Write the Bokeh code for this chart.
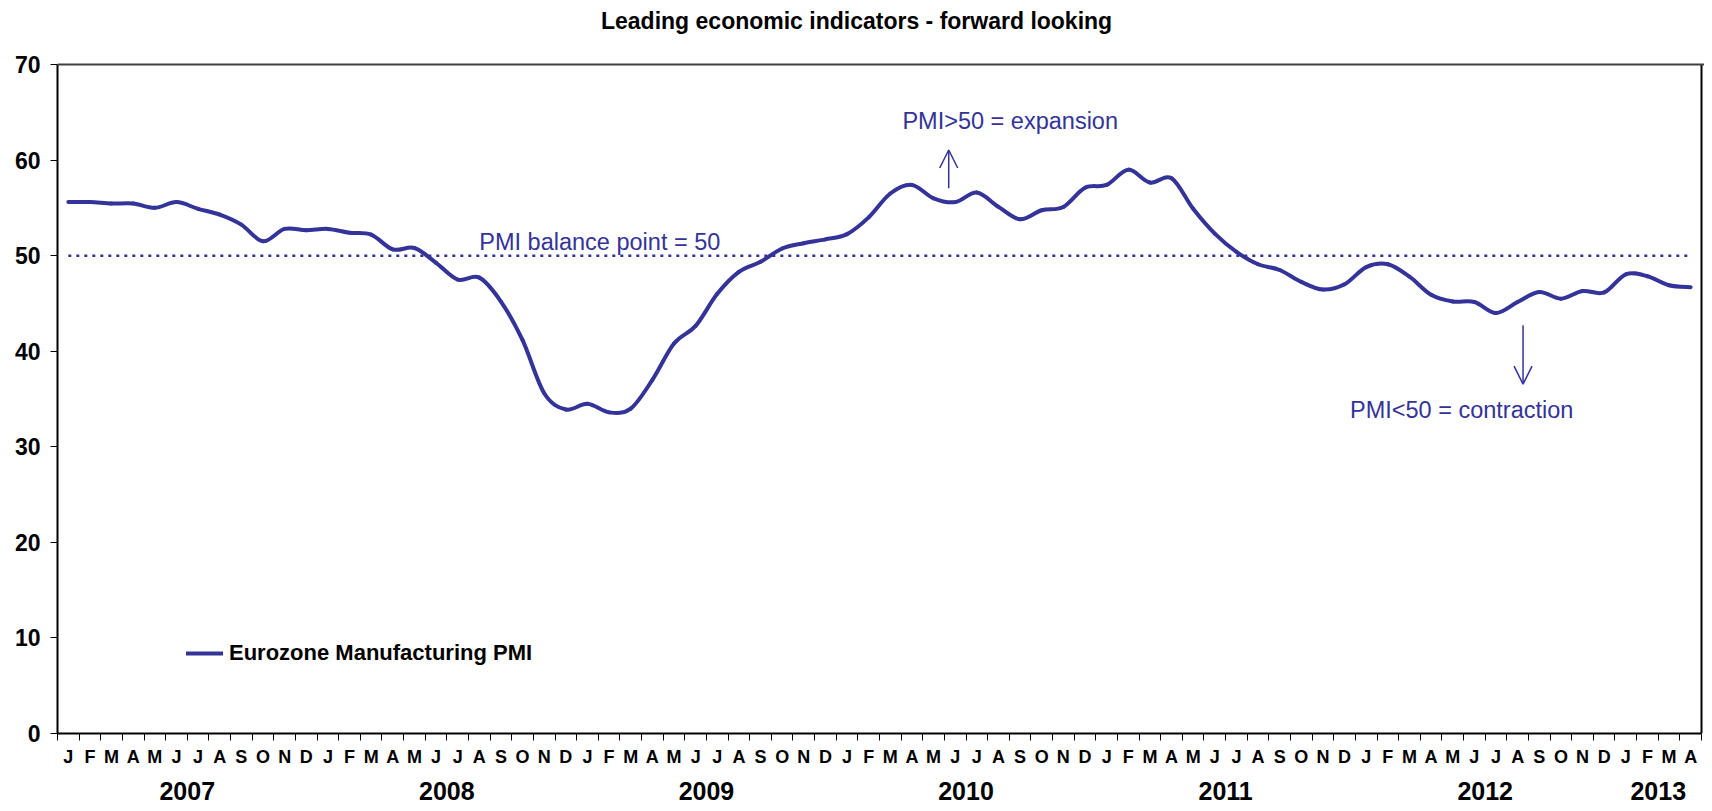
from bokeh.plotting import figure
from bokeh.models import (Range1d, FixedTicker, LinearAxis, Label, Arrow, OpenHead,
                          ColumnDataSource, Legend, LegendItem, Span)
from bokeh.embed import file_html
from bokeh.resources import INLINE

# ---------------- data ----------------
years = [2007, 2008, 2009, 2010, 2011, 2012, 2013]
month_letters = ["J", "F", "M", "A", "M", "J", "J", "A", "S", "O", "N", "D"]
months_in_year = [12, 12, 12, 12, 12, 12, 4]

pmi_2007 = [55.6, 55.6, 55.45, 55.45, 55.0, 55.6, 54.9, 54.3, 53.25, 51.5, 52.8, 52.65]
pmi_2008 = [52.8, 52.4, 52.2, 50.65, 50.8, 49.25, 47.5, 47.7, 45.2, 41.15, 35.6, 33.9]
pmi_2009 = [34.5, 33.6, 34.0, 37.0, 40.8, 42.65, 46.0, 48.3, 49.35, 50.75, 51.3, 51.7]
pmi_2010 = [52.25, 54.0, 56.5, 57.4, 56.0, 55.6, 56.6, 55.1, 53.8, 54.75, 55.1, 57.1]
pmi_2011 = [57.4, 59.0, 57.65, 58.1, 54.9, 52.3, 50.4, 49.1, 48.5, 47.25, 46.45, 47.0]
pmi_2012 = [48.8, 49.1, 47.8, 45.9, 45.2, 45.15, 44.0, 45.15, 46.2, 45.5, 46.3, 46.15]
pmi_2013 = [48.05, 47.85, 46.9, 46.7]

balance_point = 50
y_min, y_max = 0, 70
y_ticks = [0, 10, 20, 30, 40, 50, 60, 70]

title_text = "Leading economic indicators - forward looking"
series_name = "Eurozone Manufacturing PMI"
note_balance = "PMI balance point = 50"
note_up = "PMI>50 = expansion"
note_down = "PMI<50 = contraction"

# ---------------- derived ----------------
pmi = pmi_2007 + pmi_2008 + pmi_2009 + pmi_2010 + pmi_2011 + pmi_2012 + pmi_2013
n = len(pmi)
idx = list(range(n))
letters = []
year_centers = []
start = 0
for y, m in zip(years, months_in_year):
    letters += month_letters[:m]
    year_centers.append(start + (m - 1) / 2)
    start += m

# smooth (Excel-style) curve: cubic Bezier segments through every data point
bx0, by0, bx1, by1, c0x, c0y, c1x, c1y = [], [], [], [], [], [], [], []
for i in range(n - 1):
    i0 = max(i - 1, 0)
    i3 = min(i + 2, n - 1)
    bx0.append(idx[i]); by0.append(pmi[i])
    bx1.append(idx[i + 1]); by1.append(pmi[i + 1])
    c0x.append(idx[i] + (idx[i + 1] - idx[i0]) / 6); c0y.append(pmi[i] + (pmi[i + 1] - pmi[i0]) / 6)
    c1x.append(idx[i + 1] - (idx[i3] - idx[i]) / 6); c1y.append(pmi[i + 1] - (pmi[i3] - pmi[i]) / 6)

NAVY = "#333399"
FONT = "Liberation Sans"

# frame: left edge at 57px, plot box right edge at 1701px, 70 at 64px, 0 at 733px
W, H = 1704, 803
left_px, right_px, top_px, bottom_px = 57, 1701, 64, 733
ppx = (right_px - left_px) / n
ppy = (bottom_px - top_px) / (y_max - y_min)
x_lo = -0.5
x_hi = n - 0.5 + (W - right_px) / ppx
y_hi = y_max + top_px / ppy

p = figure(width=W, height=H, x_range=Range1d(x_lo, x_hi), y_range=Range1d(y_min, y_hi),
           output_backend="svg", toolbar_location=None,
           min_border_left=left_px, min_border_right=0, min_border_top=0,
           min_border_bottom=H - bottom_px)
p.grid.visible = False
p.outline_line_color = None
p.background_fill_color = "white"
p.border_fill_color = "white"

# y axis
ya = p.yaxis[0]
ya.ticker = FixedTicker(ticks=y_ticks)
ya.bounds = (y_min, y_max)
ya.major_tick_out = 7
ya.major_tick_in = 0
ya.minor_tick_line_color = None
ya.axis_line_width = 2
ya.axis_line_color = "black"
ya.major_tick_line_color = "black"
ya.major_label_text_font = FONT
ya.major_label_text_font_style = "bold"
ya.major_label_text_font_size = "23px"
ya.major_label_text_color = "black"
ya.major_label_standoff = 10

# x axis with month letters, ticks at month boundaries
xa = p.xaxis[0]
xa.ticker = FixedTicker(ticks=idx, minor_ticks=[i - 0.5 for i in range(n + 1)])
xa.bounds = (-0.5, n - 0.5)
xa.major_label_overrides = {i: letters[i] for i in idx}
xa.major_tick_out = 0
xa.major_tick_in = 0
xa.minor_tick_out = 7
xa.minor_tick_in = 0
xa.minor_tick_line_color = "black"
xa.minor_tick_line_width = 1
xa.axis_line_width = 2
xa.axis_line_color = "black"
xa.major_label_text_font = FONT
xa.major_label_text_font_style = "bold"
xa.major_label_text_font_size = "18px"
xa.major_label_text_color = "black"
xa.major_label_standoff = 6

# year axis
yr = LinearAxis(ticker=FixedTicker(ticks=year_centers),
                major_label_overrides={c: str(y) for c, y in zip(year_centers, years)})
yr.axis_line_color = None
yr.major_tick_line_color = None
yr.minor_tick_line_color = None
yr.major_label_text_font = FONT
yr.major_label_text_font_style = "bold"
yr.major_label_text_font_size = "25px"
yr.major_label_text_color = "black"
yr.major_label_standoff = 6
p.add_layout(yr, "below")

# plot box top and right edges
p.add_layout(Span(location=y_max, dimension="width", line_color="#404040", line_width=2))
p.segment(x0=[n - 0.5], y0=[y_min], x1=[n - 0.5], y1=[y_max], line_color="black", line_width=2)

# balance line
p.line(x=idx, y=[balance_point] * n, line_color=NAVY, line_width=2.5, line_dash="3 5")

# main series (smoothed)
src = ColumnDataSource(dict(x0=bx0, y0=by0, x1=bx1, y1=by1, cx0=c0x, cy0=c0y, cx1=c1x, cy1=c1y))
r = p.bezier("x0", "y0", "x1", "y1", "cx0", "cy0", "cx1", "cy1", source=src,
             line_color=NAVY, line_width=4, line_cap="round")

lg = Legend(items=[LegendItem(label=series_name, renderers=[r])])
lg.location = (129, 67)
lg.glyph_width = 37
lg.glyph_height = 24
lg.label_height = 24
lg.label_standoff = 6
lg.padding = 0
lg.margin = 0
lg.border_line_color = None
lg.background_fill_alpha = 0
lg.label_text_font = FONT
lg.label_text_font_style = "bold"
lg.label_text_font_size = "22px"
lg.label_text_color = "black"
p.add_layout(lg)

# annotations
p.add_layout(Label(x=19.0, y=51.4, text=note_balance, text_font=FONT, text_font_size="23.5px",
                   text_color=NAVY, text_baseline="alphabetic", text_align="left"))
p.add_layout(Label(x=38.56, y=64.08, text=note_up, text_font=FONT, text_font_size="23.5px",
                   text_color=NAVY, text_baseline="alphabetic", text_align="left"))
p.add_layout(Label(x=59.25, y=33.85, text=note_down, text_font=FONT, text_font_size="23.5px",
                   text_color=NAVY, text_baseline="alphabetic", text_align="left"))
p.add_layout(Arrow(x_start=40.7, y_start=57.06, x_end=40.7, y_end=61.05, line_color=NAVY,
                   line_width=1.5, end=OpenHead(size=18, line_color=NAVY, line_width=1.5)))
p.add_layout(Arrow(x_start=67.25, y_start=42.72, x_end=67.25, y_end=36.55, line_color=NAVY,
                   line_width=1.5, end=OpenHead(size=18, line_color=NAVY, line_width=1.5)))

# title
p.add_layout(Label(x=36.44, y=74.55, text=title_text, text_font=FONT, text_font_style="bold",
                   text_font_size="23px", text_color="black", text_baseline="alphabetic",
                   text_align="center"))

open("out.html", "w").write(file_html(p, INLINE))
